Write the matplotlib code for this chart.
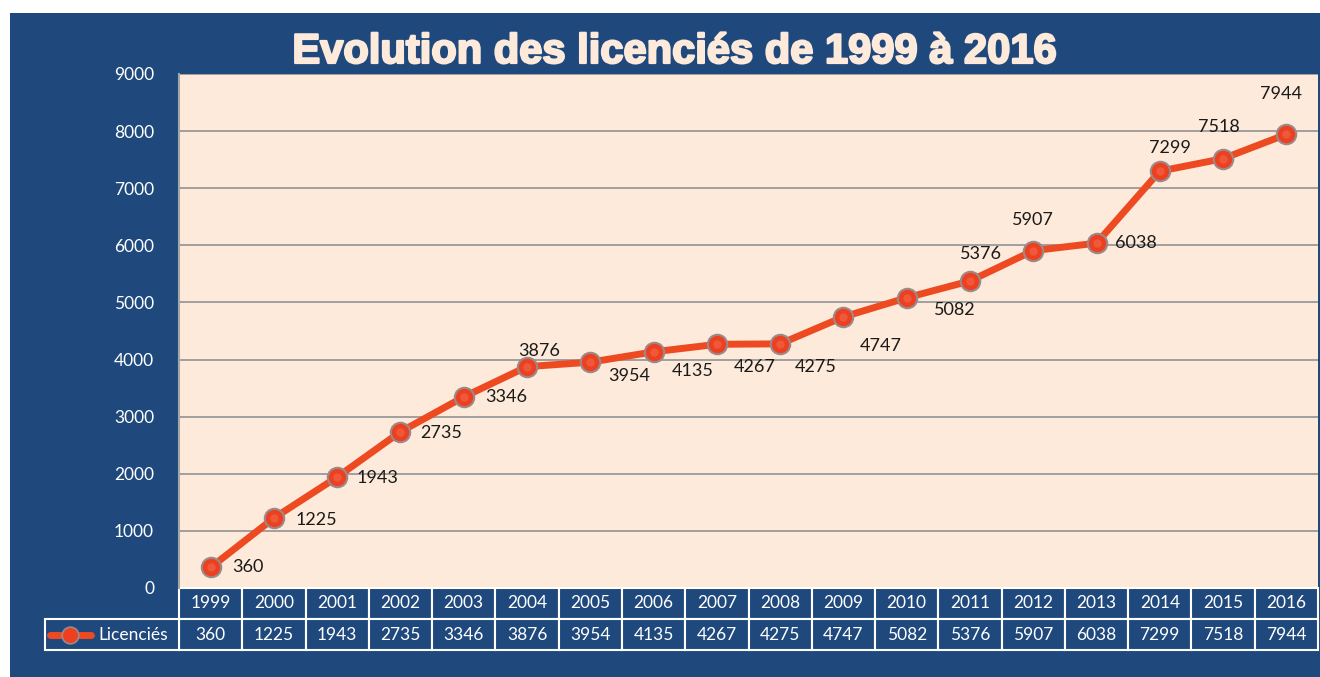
import matplotlib
matplotlib.use("Agg")
import matplotlib.pyplot as plt
from matplotlib.patches import Rectangle
from matplotlib.lines import Line2D
from matplotlib.transforms import blended_transform_factory
import matplotlib.patheffects as pe

years = [1999, 2000, 2001, 2002, 2003, 2004, 2005, 2006, 2007, 2008,
         2009, 2010, 2011, 2012, 2013, 2014, 2015, 2016]
licencies = [360, 1225, 1943, 2735, 3346, 3876, 3954, 4135, 4267, 4275,
             4747, 5082, 5376, 5907, 6038, 7299, 7518, 7944]
series_name = "Licenciés"
title = "Evolution des licenciés de 1999 à 2016"
yticks = [0, 1000, 2000, 3000, 4000, 5000, 6000, 7000, 8000, 9000]

# label offsets in pixels (dx, dy) relative to each point
label_offsets = [(37, 0), (42, -2), (40, -1), (41, -1), (42, 0), (12, 16),
                 (39, -14), (39, -19), (38, -23), (36, -23), (37, -29),
                 (48, -12), (11, 27), (0, 31), (39, 0), (10, 23), (-4, 32),
                 (-5, 40)]

BLUE = "#1f497d"
PEACH = "#fdeada"
LINE = "#ee4a22"
FONT = ["Lato", "DejaVu Sans"]

W, H = 1320, 677
fig = plt.figure(figsize=(W / 100, H / 100), dpi=100)
fig.patch.set_facecolor("white")
fig.patches.append(Rectangle((10 / W, 0), 1 - 10 / W, 1 - 13 / H,
                             transform=fig.transFigure, facecolor=BLUE,
                             edgecolor="none", zorder=-5))

x0, x1, ytop, ybot = 179, 1318, 74, 588
ax = fig.add_axes([x0 / W, (H - ybot) / H, (x1 - x0) / W, (ybot - ytop) / H])
ax.set_zorder(2)
ax.set_facecolor(PEACH)
n = len(years)
xs = list(range(n))
ax.set_xlim(-0.5, n - 0.5)
ax.set_ylim(0, 9000)
ax.set_yticks(yticks)
ax.set_yticklabels([str(v) for v in yticks], color="white", fontsize=12.5,
                   family=FONT)
ax.tick_params(axis="y", length=0, pad=18)
ax.set_xticks([])
ax.yaxis.grid(True, color="#9a9a9a", linewidth=1.3)
ax.set_axisbelow(True)
for s in ["top", "right", "bottom"]:
    ax.spines[s].set_visible(False)
ax.spines["left"].set_color("#a6a6a6")
ax.spines["left"].set_linewidth(1.5)

ax.plot(xs, licencies, color=LINE, linewidth=5, zorder=3,
        solid_capstyle="round")
ax.plot(xs, licencies, linestyle="none", marker="o", markersize=14,
        markerfacecolor="#ec4020", markeredgecolor="#9c8a8a",
        markeredgewidth=1.5, zorder=4)
ax.plot(xs, licencies, linestyle="none", marker="o", markersize=6,
        markerfacecolor="#f58a6e", markeredgecolor="none", alpha=0.35,
        zorder=5)

for x, v, (dx, dy) in zip(xs, licencies, label_offsets):
    ax.annotate(str(v), (x, v), xytext=(dx, dy), textcoords="offset pixels",
                ha="center", va="center", fontsize=13, color="#1a1a1a",
                family=FONT, zorder=6)

fig.text(0.511, 1 - 52 / H, title, ha="center", va="center", fontsize=30,
         fontweight="bold", color=PEACH,
         family=["Liberation Sans", "DejaVu Sans"],
         path_effects=[pe.withStroke(linewidth=1.6, foreground=PEACH)])

# data table
tr = blended_transform_factory(ax.transData, ax.transAxes)
rh = 31 / (ybot - ytop)
for i, (yr, v) in enumerate(zip(years, licencies)):
    for r, txt in enumerate([str(yr), str(v)]):
        ax.add_patch(Rectangle((i - 0.5, -rh * (r + 1)), 1, rh, transform=tr,
                               facecolor=BLUE, edgecolor="white",
                               linewidth=1.5, clip_on=False))
        ax.text(i, -rh * (r + 0.5), txt, transform=tr, ha="center",
                va="center", color="white", fontsize=12.5, family=FONT,
                clip_on=False)

# legend cell
colw = (x1 - x0) / n
lx = -0.5 - (x0 - 45) / colw
ax.add_patch(Rectangle((lx, -2 * rh), -0.5 - lx, rh, transform=tr,
                       facecolor=BLUE, edgecolor="white", linewidth=1.5,
                       clip_on=False))
ly = -1.5 * rh
ax.add_line(Line2D([lx + 5 / colw, lx + 46 / colw], [ly, ly], transform=tr,
                   color=LINE, linewidth=5, clip_on=False,
                   solid_capstyle="round"))
ax.add_line(Line2D([lx + 25 / colw], [ly], transform=tr, marker="o",
                   markersize=12, markerfacecolor="#ec4020",
                   markeredgecolor="#9c8a8a", markeredgewidth=1.2,
                   clip_on=False))
ax.text(lx + 53 / colw, ly, series_name, transform=tr, ha="left",
        va="center", color="white", fontsize=12.5, family=FONT,
        clip_on=False)

fig.savefig("out.png", dpi=100, facecolor=fig.get_facecolor())
